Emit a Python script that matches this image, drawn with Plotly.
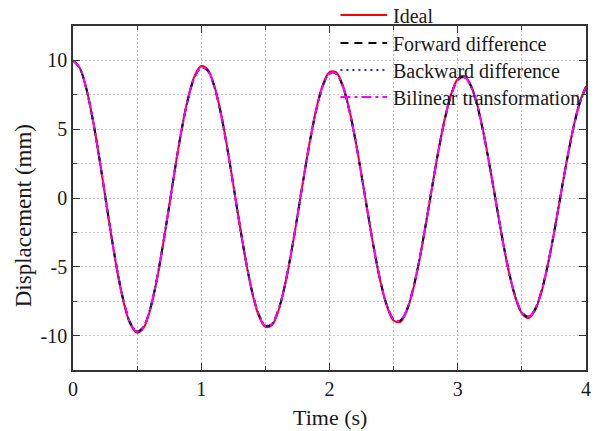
import plotly.graph_objects as go

# Time base (s), sampled every 0.05 s
time_s = [round(0.05 * i, 2) for i in range(81)]

# Displacement (mm)
ideal = [
    10.00, 9.50, 8.11, 5.94, 3.22, 0.20, -2.83, -5.57, -7.77, -9.23,
    -9.80, -9.44, -8.18, -6.14, -3.52, -0.59, 2.40, 5.14, 7.38, 8.91,
    9.59, 9.35, 8.22, 6.32, 3.81, 0.96, -1.98, -4.71, -6.99, -8.59,
    -9.37, -9.25, -8.25, -6.47, -4.08, -1.31, 1.57, 4.29, 6.60, 8.27,
    9.14, 9.14, 8.27, 6.61, 4.34, 1.65, -1.17, -3.88, -6.21, -7.93,
    -8.90, -9.01, -8.27, -6.74, -4.57, -1.98, 0.79, 3.48, 5.82, 7.60,
    8.65, 8.87, 8.25, 6.84, 4.79, 2.29, -0.42, -3.08, -5.44, -7.26,
    -8.39, -8.72, -8.21, -6.93, -4.98, -2.58, 0.07, 2.70, 5.06, 6.93,
    8.13,
]
forward_diff = [
    10.00, 9.48, 8.08, 5.90, 3.19, 0.20, -2.80, -5.51, -7.69, -9.14,
    -9.70, -9.35, -8.10, -6.08, -3.48, -0.58, 2.38, 5.09, 7.31, 8.82,
    9.49, 9.26, 8.14, 6.26, 3.77, 0.95, -1.96, -4.66, -6.92, -8.50,
    -9.28, -9.16, -8.17, -6.41, -4.04, -1.30, 1.55, 4.25, 6.53, 8.19,
    9.05, 9.05, 8.19, 6.54, 4.30, 1.63, -1.16, -3.84, -6.15, -7.85,
    -8.81, -8.92, -8.19, -6.67, -4.52, -1.96, 0.78, 3.45, 5.76, 7.52,
    8.56, 8.78, 8.17, 6.77, 4.74, 2.27, -0.42, -3.05, -5.39, -7.19,
    -8.31, -8.63, -8.13, -6.86, -4.93, -2.55, 0.07, 2.67, 5.01, 6.86,
    8.05,
]
backward_diff = [
    10.00, 9.48, 8.07, 5.89, 3.18, 0.19, -2.80, -5.50, -7.68, -9.13,
    -9.69, -9.34, -8.09, -6.07, -3.47, -0.58, 2.37, 5.08, 7.30, 8.81,
    9.48, 9.25, 8.13, 6.25, 3.76, 0.94, -1.96, -4.65, -6.91, -8.49,
    -9.27, -9.15, -8.16, -6.40, -4.03, -1.29, 1.55, 4.24, 6.52, 8.18,
    9.04, 9.04, 8.18, 6.53, 4.29, 1.62, -1.16, -3.83, -6.14, -7.84,
    -8.80, -8.91, -8.18, -6.66, -4.51, -1.95, 0.78, 3.44, 5.75, 7.51,
    8.55, 8.77, 8.16, 6.76, 4.73, 2.26, -0.42, -3.04, -5.38, -7.18,
    -8.30, -8.62, -8.12, -6.85, -4.92, -2.54, 0.07, 2.66, 5.00, 6.85,
    8.04,
]
bilinear = [
    10.00, 9.49, 8.09, 5.91, 3.20, 0.20, -2.81, -5.52, -7.70, -9.15,
    -9.71, -9.36, -8.11, -6.09, -3.49, -0.58, 2.38, 5.10, 7.32, 8.83,
    9.50, 9.27, 8.15, 6.27, 3.78, 0.95, -1.96, -4.67, -6.93, -8.51,
    -9.29, -9.17, -8.18, -6.42, -4.05, -1.30, 1.56, 4.26, 6.54, 8.20,
    9.06, 9.06, 8.20, 6.55, 4.31, 1.64, -1.16, -3.85, -6.16, -7.86,
    -8.82, -8.93, -8.20, -6.68, -4.53, -1.96, 0.78, 3.46, 5.77, 7.53,
    8.57, 8.79, 8.18, 6.78, 4.75, 2.27, -0.42, -3.06, -5.40, -7.20,
    -8.32, -8.64, -8.14, -6.87, -4.94, -2.56, 0.07, 2.68, 5.02, 6.87,
    8.06,
]

series_names = ["Ideal", "Forward difference", "Backward difference",
                "Bilinear transformation"]
series_values = [ideal, forward_diff, backward_diff, bilinear]
series_colors = ["#ff0000", "#000000", "#2a2ad8", "#ff00ff"]
series_dash = ["solid", "8px,6px", "2px,4px", "10px,4px,3px,4px"]

x_tick_vals = [0, 1, 2, 3, 4]
x_tick_text = ["0", "1", "2", "3", "4"]
y_tick_vals = [-10, -5, 0, 5, 10]
y_tick_text = ["-10", "-5", "0", "5", "10"]

FONT = "Liberation Serif, Times New Roman, serif"
TEXT_COL = "#1a1a1a"

fig = go.Figure()
for name, vals, col, dash in zip(series_names, series_values, series_colors, series_dash):
    fig.add_trace(go.Scatter(
        x=time_s, y=vals, name=name, mode="lines",
        line=dict(color=col, width=2, dash=dash, shape="spline", smoothing=1),
        showlegend=False,
    ))

# plot area in pixels: x 73..589, y 26..370
L, R, T, B = 73, 589, 26, 370
W, H = R - L, B - T


def px_x(px):
    return (px - L) / W


def px_y(py):
    return (B - py) / H


# hand-drawn legend at the top right
legend_rows = [15, 43, 70, 97]
for name, col, dash, ry in zip(series_names, series_colors, series_dash, legend_rows):
    fig.add_shape(type="line", xref="paper", yref="paper",
                  x0=px_x(342), x1=px_x(389), y0=px_y(ry), y1=px_y(ry),
                  line=dict(color=col, width=2, dash=dash))
    fig.add_annotation(text=name, xref="paper", yref="paper",
                       x=px_x(393), y=px_y(ry + 1), xanchor="left", yanchor="middle",
                       showarrow=False, font=dict(family=FONT, size=20, color=TEXT_COL))

# axis titles
fig.add_annotation(text="Time (s)", xref="paper", yref="paper",
                   x=0.5, y=px_y(417), xanchor="center", yanchor="middle",
                   showarrow=False, font=dict(family=FONT, size=22, color=TEXT_COL))
fig.add_annotation(text="Displacement (mm)", xref="paper", yref="paper",
                   x=px_x(23), y=px_y(216), xanchor="center", yanchor="middle",
                   textangle=-90, showarrow=False,
                   font=dict(family=FONT, size=23, color=TEXT_COL))

grid_col = "#c8c8c8"
grid_dash = "2px,2px"
axis_common = dict(
    showline=True, linecolor="#333333", linewidth=1.5, mirror="allticks",
    ticks="inside", ticklen=7, tickwidth=1.3, tickcolor="#333333",
    showgrid=True, gridcolor=grid_col, griddash=grid_dash, gridwidth=1,
    zeroline=False,
    tickfont=dict(family=FONT, size=20, color=TEXT_COL),
)

fig.update_xaxes(
    range=[0, 4], tickmode="array", tickvals=x_tick_vals, ticktext=x_tick_text,
    minor=dict(dtick=0.5, tick0=0, ticks="inside", ticklen=4, tickcolor="#333333",
               showgrid=True, gridcolor=grid_col, griddash=grid_dash),
    **axis_common,
)
fig.update_yaxes(
    range=[-12.5, 12.5], tickmode="array", tickvals=y_tick_vals, ticktext=y_tick_text,
    minor=dict(dtick=2.5, tick0=0, ticks="inside", ticklen=4, tickcolor="#333333",
               showgrid=True, gridcolor=grid_col, griddash=grid_dash),
    **axis_common,
)

fig.update_layout(
    width=603, height=431,
    margin=dict(l=L, r=603 - R, t=T, b=431 - B),
    paper_bgcolor="white", plot_bgcolor="white",
    font=dict(family=FONT),
)

fig.write_html("out.html")
